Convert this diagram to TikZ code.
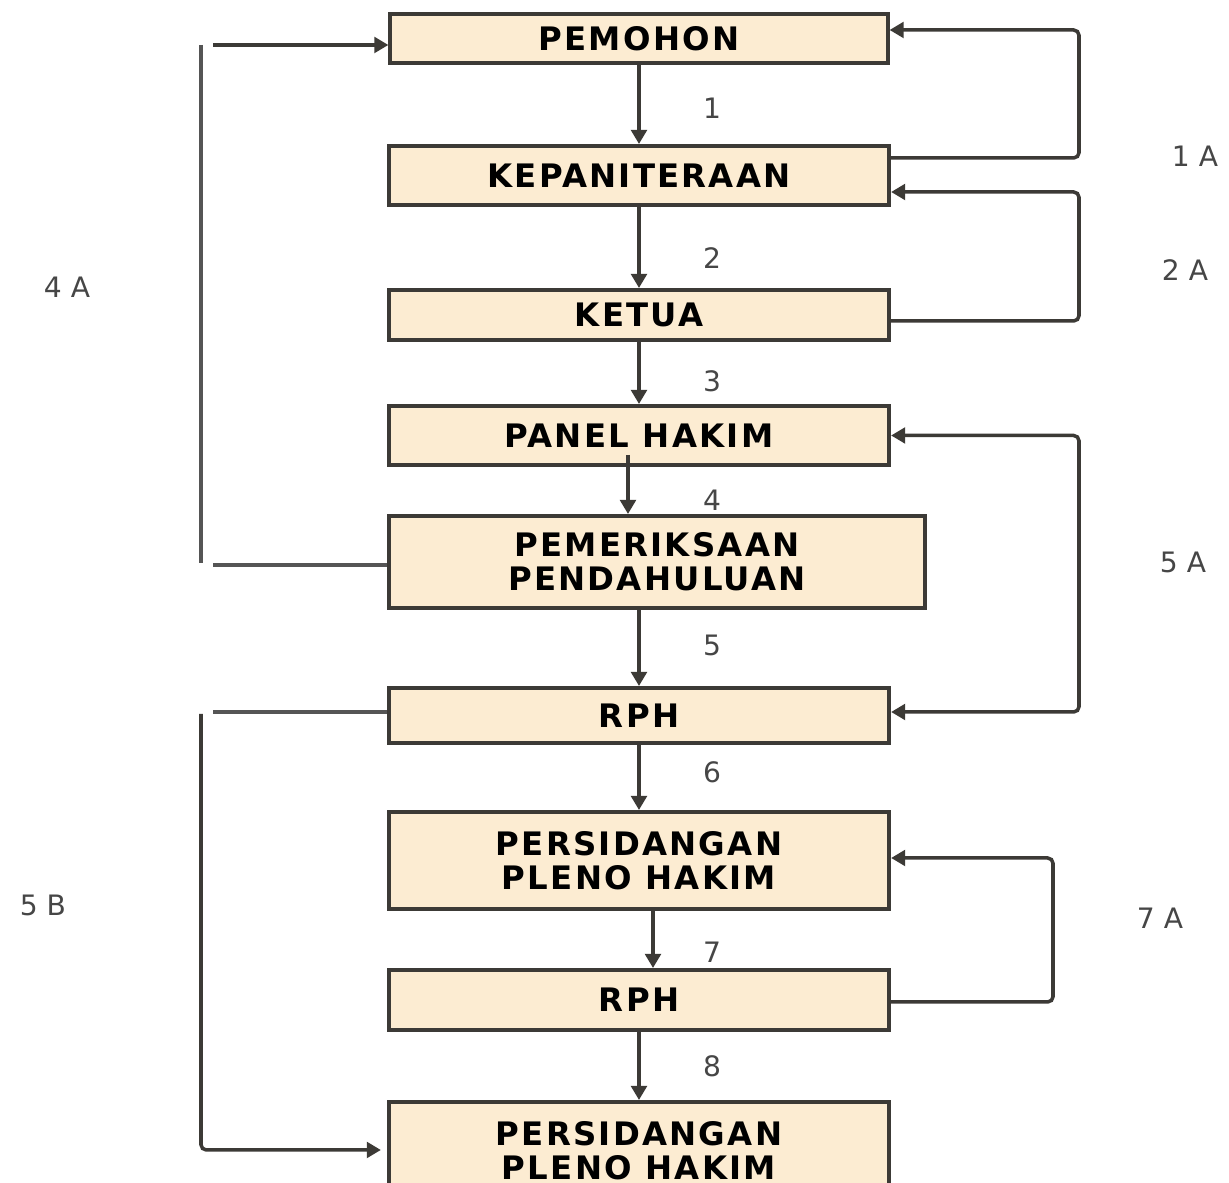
\documentclass[tikz,border=0pt]{standalone}
\usepackage{fontspec}
\setmainfont{DejaVu Sans}
\newfontfamily\boxfont[LetterSpace=7]{DejaVu Sans}
\usetikzlibrary{arrows.meta}
\definecolor{boxfill}{RGB}{252,236,210}
\definecolor{boxline}{RGB}{60,58,54}
\definecolor{loopline}{RGB}{85,85,85}
\definecolor{numtext}{RGB}{70,70,70}
\begin{document}
\begin{tikzpicture}[x=0.01cm,y=-0.01cm,
    box/.style={draw=boxline, fill=boxfill, line width=1.1pt, align=center,
        minimum width=5cm, inner sep=0pt,
        font=\boxfont\bfseries\fontsize{9.2}{9.6}\selectfont},
    arr/.style={-{Triangle[length=4pt,width=4.4pt]}, line width=1pt, draw=boxline},
    loop/.style={line width=1.1pt, draw=loopline, rounded corners=1.5pt},
    num/.style={text=numtext, font=\fontsize{8}{9}\selectfont}]
    \clip (0,0) rectangle (1229,1183);
    \fill[white] (0,0) rectangle (1229,1183);
    % boxes
    \node[box, minimum width=4.97cm, minimum height=0.49cm] (pemohon) at (639,38.5) {PEMOHON};
    \node[box, minimum height=0.59cm] (kepan) at (639,175.5) {KEPANITERAAN};
    \node[box, minimum height=0.50cm] (ketua) at (639,315) {KETUA};
    \node[box, minimum height=0.59cm] (panel) at (639,435.5) {PANEL HAKIM};
    \node[box, minimum width=5.36cm, minimum height=0.92cm] (periksa) at (657,562) {PEMERIKSAAN\\PENDAHULUAN};
    \node[box, minimum height=0.55cm] (rph1) at (639,715.5) {RPH};
    \node[box, minimum height=0.97cm] (sidang) at (639,860.5) {PERSIDANGAN\\PLENO HAKIM};
    \node[box, minimum height=0.60cm] (rph2) at (639,1000) {RPH};
    \node[box, minimum height=0.97cm] (sidang2) at (639,1150.5) {PERSIDANGAN\\PLENO HAKIM};
    % main flow
    \draw[arr] (pemohon.south) -- (kepan.north);
    \draw[arr] (kepan.south) -- (ketua.north);
    \draw[arr] (ketua.south) -- (panel.north);
    \coordinate (a4) at ([xshift=-0.11cm,yshift=0.12cm]panel.south);
    \draw[arr] (a4) -- (a4 |- periksa.north);
    \draw[arr] (periksa.south -| rph1.north) -- (rph1.north);
    \draw[arr] (rph1.south) -- (sidang.north);
    \draw[arr] ([xshift=0.14cm]sidang.south) -- ([xshift=0.14cm]rph2.north);
    \draw[arr] (rph2.south) -- (sidang2.north);
    \node[num] at (712,108) {1};
    \node[num] at (712,258) {2};
    \node[num] at (712,381) {3};
    \node[num] at (712,500) {4};
    \node[num] at (712,645) {5};
    \node[num] at (712,772) {6};
    \node[num] at (712,952) {7};
    \node[num] at (712,1066) {8};
    % right side loops
    \draw[loop, arr] (kepan.east |- 0,158) -| (1079,30) -- (pemohon.east |- 0,30);
    \draw[loop, arr] (ketua.east |- 0,321) -| (1079,192) -- (kepan.east |- 0,192);
    \draw[loop, arr, {Triangle[length=4pt,width=4.4pt]}-{Triangle[length=4pt,width=4.4pt]}]
        (panel.east) -| (1079,712) -- (rph1.east |- 0,712);
    \draw[loop, arr] (rph2.east |- 0,1002) -| (1053,858) -- (sidang.east |- 0,858);
    \node[num] at (1195,156) {1 A};
    \node[num] at (1185,270) {2 A};
    \node[num] at (1183,562) {5 A};
    \node[num] at (1160,918) {7 A};
    % left side loops
    \coordinate (t4) at (213,45);
    \coordinate (b4) at (213,565);
    \coordinate (t5) at (213,712);
    \draw[arr] (t4) -- (pemohon.west |- t4);
    \draw[loop] (201,45) -- (201,563);
    \draw[loop] (b4) -- (periksa.west |- b4);
    \draw[loop] (t5) -- (rph1.west |- t5);
    \draw[loop, arr, shorten >=0.06cm] (201,714) |- (sidang2.west |- 0,1150);
    \node[num] at (67,287) {4 A};
    \node[num] at (43,905) {5 B};
\end{tikzpicture}
\end{document}
